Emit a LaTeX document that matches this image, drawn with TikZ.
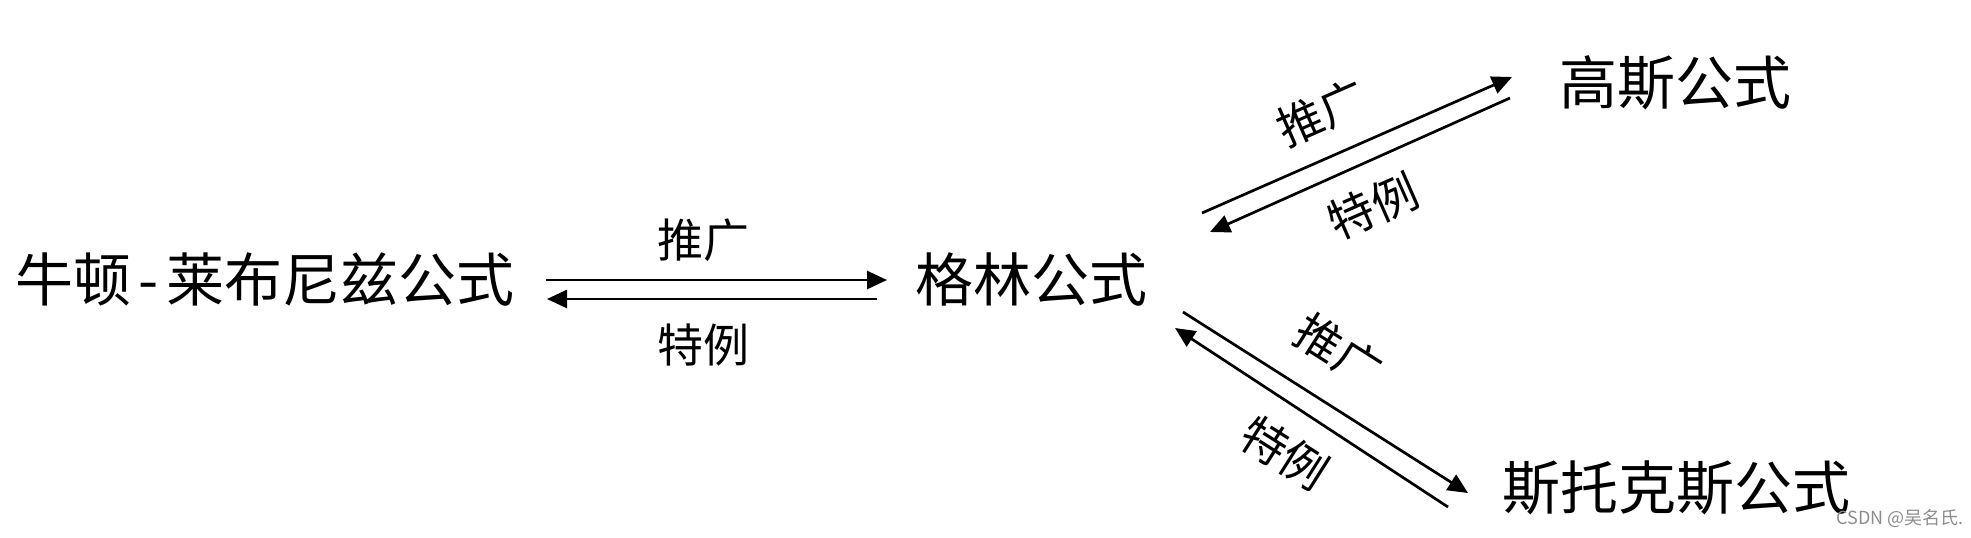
\documentclass[tikz,border=0pt]{standalone}
\usepackage{fontspec}
\setmainfont{Noto Sans CJK SC}
\usetikzlibrary{arrows.meta,positioning}

\begin{document}
\begin{tikzpicture}[x=0.5pt, y=-0.5pt,
    formula/.style={inner sep=0pt, font=\fontsize{29pt}{29pt}\selectfont},
    rel/.style={inner sep=0pt, font=\fontsize{23pt}{23pt}\selectfont},
    arr/.style={-{Triangle[length=10pt, width=9pt]}, line width=1.35pt},
]
    \useasboundingbox (0,0) rectangle (1971,537);

    % Formulas
    \node[formula] (newton) at (265,279) {牛顿\hspace{0.13em}-\hspace{0.13em}莱布尼兹公式};
    \node[formula] (green)  at (1031,279) {格林公式};
    \node[formula] (gauss)  at (1675,83) {高斯公式};
    \node[formula] (stokes) at (1676,488) {斯托克斯公式};

    % Newton-Leibniz <-> Green
    \draw[arr] ([shift={(281,1)}]newton.center) -- ([shift={(-144,1)}]green.center);
    \draw[arr] ([shift={(-154,20)}]green.center) -- ([shift={(282,20)}]newton.center);
    \node[rel] (gen1) at (703,240) {推广};
    \node[rel] (spec1) at (703,345) {特例};

    % Green <-> Gauss
    \draw[arr] ([shift={(171,-66)}]green.center) -- ([shift={(-163,-6)}]gauss.center);
    \draw[arr] ([shift={(-165,15)}]gauss.center) -- ([shift={(179,-47)}]green.center);
    \node[rel, rotate=23.7] (gen2) at (1322,113) {推广};
    \node[rel, rotate=23.7] (spec2) at (1373,206) {特例};

    % Green <-> Stokes
    \draw[arr] ([shift={(152,33)}]green.center) -- ([shift={(-208,5)}]stokes.center);
    \draw[arr] ([shift={(-228,19)}]stokes.center) -- ([shift={(144,49)}]green.center);
    \node[rel, rotate=-32.4] (gen3) at (1339,351) {推广};
    \node[rel, rotate=-32.4] (spec3) at (1285,453) {特例};

    % watermark
    \node[inner sep=0pt, text=black!45, font=\fontsize{9pt}{9pt}\selectfont] (mark) at (1900,518) {CSDN @吴名氏.};
\end{tikzpicture}
\end{document}
